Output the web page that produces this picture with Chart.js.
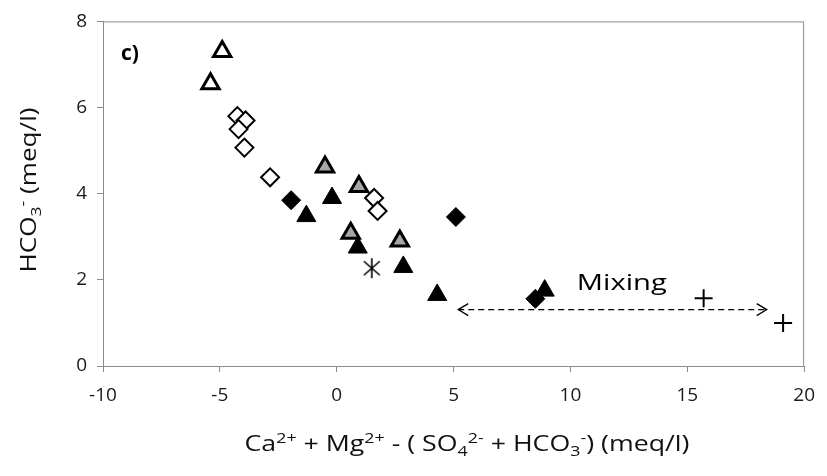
<!DOCTYPE html>
<html lang="en">
  <head>
    <meta charset="UTF-8" />
    <title>HCO3 vs Ca+Mg-(SO4+HCO3)</title>
    <script src="https://cdn.jsdelivr.net/npm/chart.js@4.4.0/dist/chart.umd.min.js"></script>
    <style>
      body { margin: 0; background: #fff; }
      #wrap { width: 827px; height: 476px; }
    </style>
  </head>
  <body>
    <div id="wrap"><canvas id="chart" width="827" height="476"></canvas></div>
    <script>
      // values, as [x, y] pairs
      const openTriangles = [[-4.9, 7.3], [-5.4, 6.55]];
      const openDiamonds = [[-4.25, 5.8], [-3.9, 5.7], [-4.2, 5.5], [-3.95, 5.07], [-2.85, 4.38], [1.6, 3.9], [1.75, 3.6]];
      const blackDiamonds = [[-1.95, 3.85], [5.1, 3.46], [8.5, 1.56]];
      const blackTriangles = [[-1.3, 3.48], [-0.2, 3.9], [0.9, 2.75], [2.85, 2.3], [4.3, 1.65], [8.9, 1.75]];
      const greyTriangles = [[-0.5, 4.62], [0.95, 4.17], [0.6, 3.08], [2.7, 2.9]];
      const asterisk = [[1.5, 2.27]];
      const crosses = [[15.7, 1.57], [19.1, 1.0]];
      const mixingArrow = [[5.2, 1.31], [18.4, 1.31]];
      const xTicks = [-10, -5, 0, 5, 10, 15, 20];
      const yTicks = [0, 2, 4, 6, 8];

      const FONT = "'Open Sans', 'DejaVu Sans', sans-serif";

      function toPts(arr) {
        return arr.map((p) => ({ x: p[0], y: p[1] }));
      }

      // six-armed asterisk as an image point style
      function makeAsterisk() {
        const c = document.createElement("canvas");
        c.width = 24;
        c.height = 24;
        const g = c.getContext("2d");
        g.strokeStyle = "#000";
        g.lineWidth = 1.6;
        g.beginPath();
        g.moveTo(12, 2); g.lineTo(12, 22);
        g.moveTo(4, 5); g.lineTo(20, 19);
        g.moveTo(20, 5); g.lineTo(4, 19);
        g.stroke();
        return c;
      }

      // text made of normal / sup / sub pieces, centred at (cx, cy),
      // stretched sideways to a given width (the source figure is stretched)
      function richText(ctx, parts, cx, cy, size, width) {
        const small = Math.round(size * 0.65);
        let w = 0;
        parts.forEach((p) => {
          ctx.font = (p[1] ? small : size) + "px " + FONT;
          p.w = ctx.measureText(p[0]).width;
          w += p.w;
        });
        const sx = width ? width / w : 1;
        ctx.save();
        ctx.translate(cx, cy);
        ctx.scale(sx, 1);
        let x = -w / 2;
        ctx.textBaseline = "middle";
        ctx.textAlign = "left";
        parts.forEach((p) => {
          ctx.font = (p[1] ? small : size) + "px " + FONT;
          let dy = 0;
          if (p[1] === "sup") dy = -size * 0.3;
          if (p[1] === "sub") dy = size * 0.32;
          ctx.fillText(p[0], x, dy);
          x += p.w;
        });
        ctx.restore();
      }

      const xTitle = [["Ca"], ["2+", "sup"], [" + Mg"], ["2+", "sup"], [" - ( SO"], ["4", "sub"], ["2-", "sup"], [" + HCO"], ["3", "sub"], ["-", "sup"], [") (meq/l)"]];
      const yTitle = [["HCO"], ["3", "sub"], ["-", "sup"], [" (meq/l)"]];

      const extras = {
        id: "extras",
        afterDatasetsDraw(chart) {
          const ctx = chart.ctx;
          const xs = chart.scales.x;
          const ys = chart.scales.y;
          ctx.save();
          ctx.fillStyle = "#000";

          // arrowheads on the mixing line
          const a = mixingArrow;
          const x1 = xs.getPixelForValue(a[0][0]);
          const x2 = xs.getPixelForValue(a[1][0]);
          const y1 = ys.getPixelForValue(a[0][1]);
          ctx.strokeStyle = "#000";
          ctx.lineWidth = 1.3;
          ctx.beginPath();
          ctx.moveTo(x1 + 10, y1 - 6); ctx.lineTo(x1, y1); ctx.lineTo(x1 + 10, y1 + 6);
          ctx.moveTo(x2 - 10, y1 - 6); ctx.lineTo(x2, y1); ctx.lineTo(x2 - 10, y1 + 6);
          ctx.stroke();

          richText(ctx, [["Mixing"]], xs.getPixelForValue(12.2), ys.getPixelForValue(1.9), 22, 90);

          ctx.font = "bold 21px " + FONT;
          ctx.textAlign = "center";
          ctx.textBaseline = "middle";
          ctx.fillText("c)", xs.getPixelForValue(-8.85), ys.getPixelForValue(7.25));

          // axis titles
          ctx.fillStyle = "#111";
          richText(ctx, xTitle, 467, 445, 21, 445);
          ctx.translate(30, 190);
          ctx.rotate(-Math.PI / 2);
          richText(ctx, yTitle, 0, 0, 21, 165);
          ctx.restore();
        },
      };

      const frame = {
        id: "frame",
        beforeDatasetsDraw(chart) {
          const a = chart.chartArea;
          const ctx = chart.ctx;
          ctx.save();
          ctx.strokeStyle = "#8c8c8c";
          ctx.lineWidth = 1;
          ctx.strokeRect(a.left + 0.5, a.top + 0.5, a.right - a.left - 1, a.bottom - a.top);
          ctx.restore();
        },
      };

      new Chart(document.getElementById("chart"), {
        type: "scatter",
        data: {
          datasets: [
            {
              type: "line",
              data: toPts(mixingArrow),
              borderColor: "#000",
              borderWidth: 1.3,
              borderDash: [6, 4],
              pointRadius: 0,
              order: 10,
            },
            {
              data: toPts(openDiamonds),
              pointStyle: "rectRot",
              pointRadius: 9,
              backgroundColor: "#fff",
              borderColor: "#000",
              borderWidth: 2,
            },
            {
              data: toPts(blackDiamonds),
              pointStyle: "rectRot",
              pointRadius: 9.5,
              backgroundColor: "#000",
              borderColor: "#000",
              borderWidth: 1,
            },
            {
              data: toPts(openTriangles),
              pointStyle: "triangle",
              pointRadius: 10,
              backgroundColor: "#fff",
              borderColor: "#000",
              borderWidth: 3,
            },
            {
              data: toPts(greyTriangles),
              pointStyle: "triangle",
              pointRadius: 10,
              backgroundColor: "#a6a6a6",
              borderColor: "#000",
              borderWidth: 3,
            },
            {
              data: toPts(blackTriangles),
              pointStyle: "triangle",
              pointRadius: 11,
              backgroundColor: "#000",
              borderColor: "#000",
              borderWidth: 1,
            },
            {
              data: toPts(asterisk),
              pointStyle: makeAsterisk(),
              pointRadius: 12,
            },
            {
              data: toPts(crosses),
              pointStyle: "cross",
              pointRadius: 9,
              borderColor: "#000",
              borderWidth: 2,
            },
          ],
        },
        options: {
          responsive: false,
          animation: false,
          events: [],
          layout: { padding: { top: 17, right: 18, left: 0, bottom: 0 } },
          plugins: { legend: { display: false }, tooltip: { enabled: false } },
          scales: {
            x: {
              type: "linear",
              min: xTicks[0],
              max: xTicks[xTicks.length - 1],
              afterBuildTicks: (s) => { s.ticks = xTicks.map((v) => ({ value: v })); },
              afterFit: (s) => { s.height = 110; },
              border: { color: "#8c8c8c" },
              grid: { drawOnChartArea: false, drawTicks: true, tickLength: 6, color: "#8c8c8c" },
              ticks: { color: "#1a1a1a", font: { family: FONT, size: 19 }, padding: 12 },
            },
            y: {
              type: "linear",
              min: yTicks[0],
              max: yTicks[yTicks.length - 1],
              afterBuildTicks: (s) => { s.ticks = yTicks.map((v) => ({ value: v })); },
              afterFit: (s) => { s.width = 103; },
              border: { color: "#8c8c8c" },
              grid: { drawOnChartArea: false, drawTicks: true, tickLength: 6, color: "#8c8c8c" },
              ticks: { color: "#1a1a1a", font: { family: FONT, size: 19 }, padding: 10 },
            },
          },
        },
        plugins: [frame, extras],
      });
    </script>
  </body>
</html>
